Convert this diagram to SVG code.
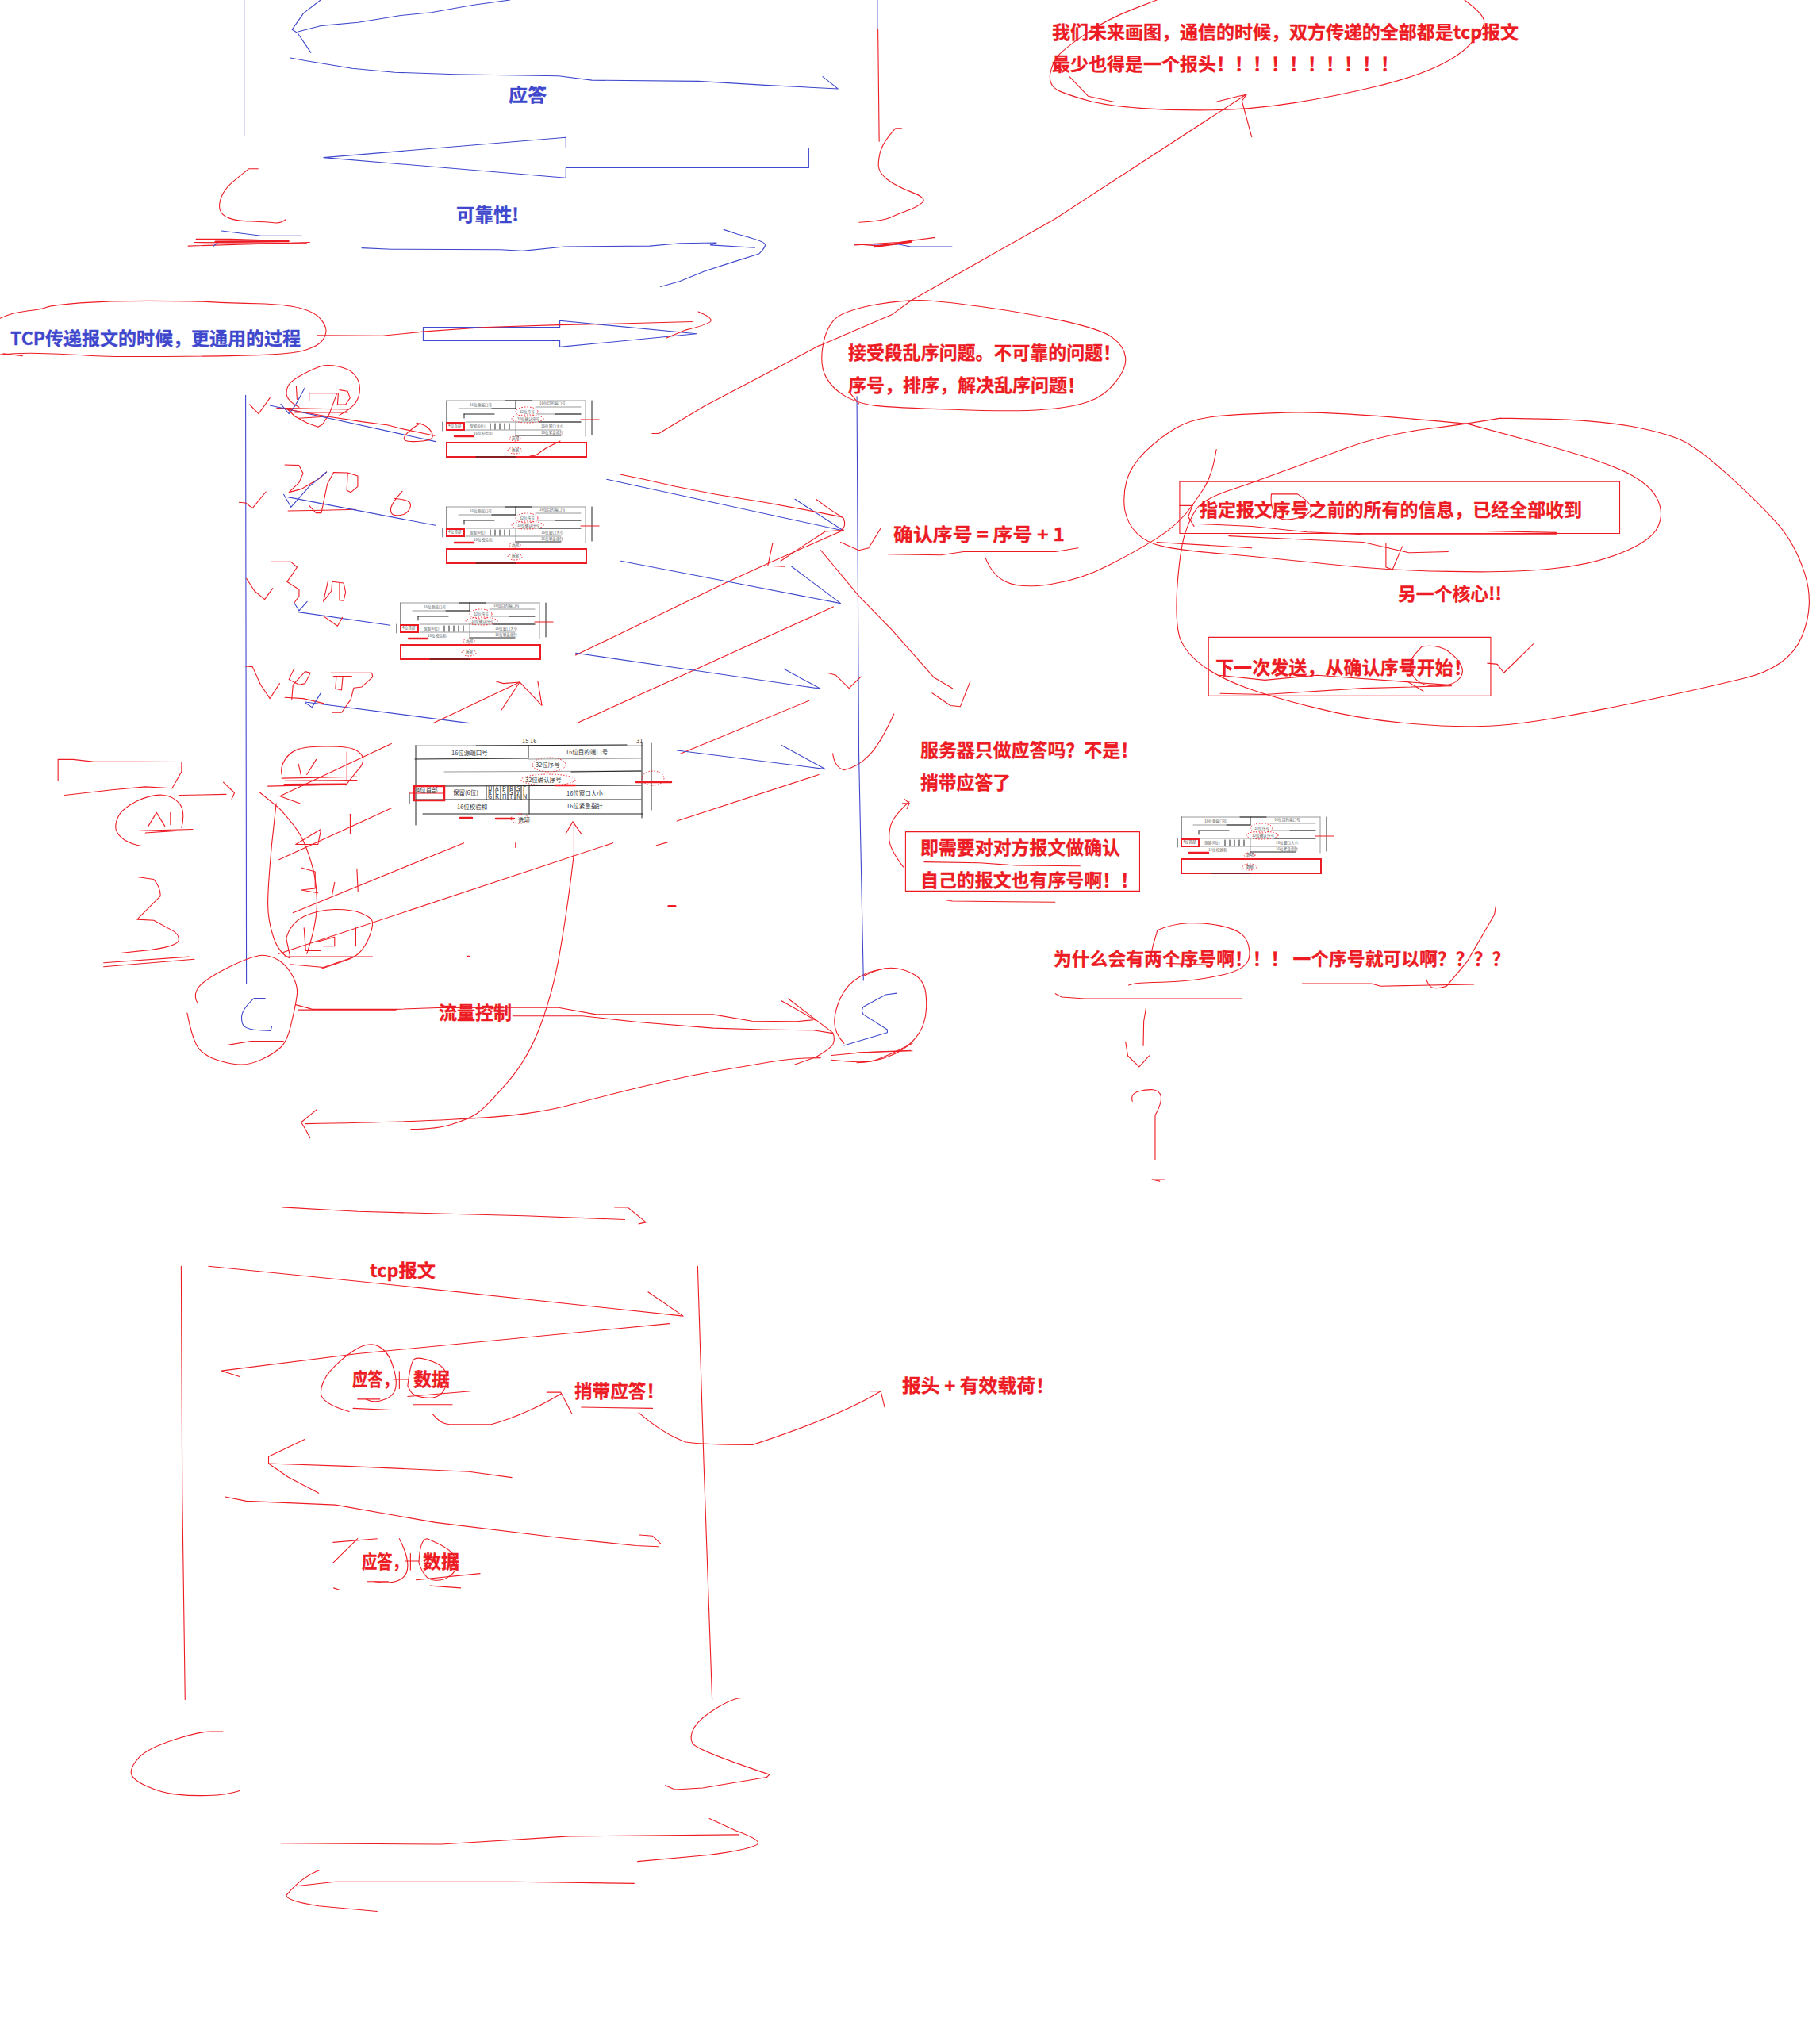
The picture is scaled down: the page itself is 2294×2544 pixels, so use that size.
<svg xmlns="http://www.w3.org/2000/svg" xmlns:xlink="http://www.w3.org/1999/xlink" width="2294" height="2544" viewBox="0 0 2294 2544">
<style>
polyline,line,path,.box{vector-effect:non-scaling-stroke;fill:none;stroke-linejoin:round;stroke-linecap:round}
.r{stroke:#ED1C24;stroke-width:1.1}
.b{stroke:#3F48CC;stroke-width:1.1}
.rt{stroke:#ED1C24;stroke-width:2.5}
.k{stroke:#222;stroke-width:1}
.g{stroke:#999;stroke-width:1}
.rb{stroke:#ED1C24;stroke-width:2;fill:none}
.rd{stroke:#ED1C24;stroke-width:1;stroke-dasharray:1.5 2;fill:none}
text{font-family:"Noto Sans CJK SC","Liberation Sans",sans-serif}
.tr{font-size:22.5px;font-weight:700;fill:#ED1C24;stroke:#ED1C24;stroke-width:.35}
.tb{font-size:22.5px;font-weight:700;fill:#3F48CC;stroke:#3F48CC;stroke-width:.35}
.s{font-size:4.6px;fill:#555}
.m{font-size:7.5px;fill:#333}
</style>
<defs>
<g id="thumb">
<line class="g" x1="3" y1="5" x2="178" y2="5"/><line class="k" x1="77" y1="5" x2="110" y2="5"/>
<line class="g" x1="18" y1="15" x2="90" y2="15"/><line class="k" x1="60" y1="15" x2="90" y2="15"/>
<line class="k" x1="90" y1="5" x2="90" y2="15"/><line class="g" x1="115" y1="13" x2="172" y2="13"/>
<line class="k" x1="25" y1="22" x2="63" y2="22"/><line class="k" x1="25" y1="22" x2="25" y2="27"/>
<line class="g" x1="117" y1="22" x2="172" y2="22"/><line class="k" x1="140" y1="22" x2="172" y2="22"/>
<line class="g" x1="27" y1="32" x2="172" y2="32"/><line class="k" x1="120" y1="32" x2="172" y2="32"/>
<line class="g" x1="27" y1="42" x2="90" y2="42"/><line class="g" x1="90" y1="42" x2="147" y2="42"/>
<line class="g" x1="90" y1="32" x2="90" y2="49"/><line class="k" x1="90" y1="49" x2="147" y2="49"/>
<line class="g" x1="178" y1="5" x2="178" y2="50"/><line class="k" x1="-2" y1="32" x2="-2" y2="43"/><line class="k" x1="3" y1="5" x2="3" y2="32"/>
<line class="k" x1="186" y1="5" x2="186" y2="48"/>
<line class="rt" x1="13" y1="50" x2="37" y2="50"/><line class="r" x1="172" y1="29" x2="195" y2="29"/>
<rect class="rb" x="3" y="33" width="22" height="9"/>
<rect class="rb" x="3" y="58" width="176" height="18"/>
<line class="k" x1="40" y1="76" x2="90" y2="76"/>
<g class="k"><line x1="58" y1="34" x2="58" y2="41"/><line x1="64" y1="34" x2="64" y2="41"/><line x1="70" y1="34" x2="70" y2="41"/><line x1="76" y1="34" x2="76" y2="41"/><line x1="82" y1="34" x2="82" y2="41"/></g>
<ellipse class="rd" cx="104" cy="19" rx="14" ry="6"/><ellipse class="rd" cx="105" cy="28" rx="20" ry="5"/><ellipse class="rd" cx="89" cy="68" rx="9" ry="4"/><ellipse class="rd" cx="89" cy="53" rx="7" ry="3"/>
<text class="s" x="32" y="12">16位源端口号</text><text class="s" x="120" y="10">16位目的端口号</text>
<text class="s" x="95" y="21">32位序号</text><text class="s" x="92" y="30">32位确认序号</text>
<text class="s" x="5" y="38">4位首部</text><text class="s" x="32" y="39">保留(6位)</text>
<text class="s" x="122" y="39">16位窗口大小</text><text class="s" x="37" y="48">16位校验和</text><text class="s" x="122" y="47">16位紧急指针</text>
<text class="s" x="85" y="54">选项</text><text class="s" x="85" y="69">数据</text>
</g>
</defs>

<g id="packet-large">
<line class="g" x1="523" y1="940" x2="810" y2="940"/><line class="k" x1="600" y1="940" x2="790" y2="939"/>
<line class="k" x1="666" y1="940" x2="666" y2="956"/>
<line class="k" x1="523" y1="957" x2="665" y2="956"/><line class="g" x1="666" y1="957" x2="808" y2="956"/>
<line class="g" x1="560" y1="973" x2="808" y2="972"/><line class="k" x1="720" y1="973" x2="808" y2="972"/>
<line class="k" x1="560" y1="991" x2="808" y2="990"/>
<line class="k" x1="613" y1="991" x2="613" y2="1008"/><line class="k" x1="622" y1="991" x2="622" y2="1008"/><line class="k" x1="631" y1="991" x2="631" y2="1008"/><line class="k" x1="640" y1="991" x2="640" y2="1008"/><line class="k" x1="649" y1="991" x2="649" y2="1008"/><line class="k" x1="657" y1="991" x2="657" y2="1008"/>
<line class="k" x1="667" y1="991" x2="667" y2="1026"/>
<line class="k" x1="524" y1="1008" x2="808" y2="1008"/>
<line class="k" x1="533" y1="1026" x2="810" y2="1026"/>
<line class="k" x1="809" y1="937" x2="809" y2="1031"/><line class="k" x1="524" y1="940" x2="524" y2="1040"/>
<line class="k" x1="821" y1="937" x2="821" y2="1021"/><line class="k" x1="516" y1="1000" x2="516" y2="1013"/>
<rect x="522" y="991" width="38" height="18" fill="none" stroke="#ED1C24" stroke-width="2.5"/>
<ellipse class="rd" cx="692" cy="964" rx="21" ry="9"/><ellipse class="rd" cx="691" cy="983" rx="34" ry="7"/><ellipse class="rd" cx="655" cy="1032" rx="11" ry="6"/><ellipse class="rd" cx="823" cy="981" rx="14" ry="9"/>
<line class="rt" x1="802" y1="986" x2="846" y2="986"/><line class="rt" x1="625" y1="1032" x2="648" y2="1032"/><line class="rt" x1="580" y1="1031" x2="595" y2="1031"/><line class="rt" x1="700" y1="990" x2="725" y2="990"/>
<line class="r" x1="516" y1="1000" x2="560" y2="1000"/>
<text class="m" x="569" y="952">16位源端口号</text><text class="m" x="713" y="951">16位目的端口号</text>
<text class="m" x="675" y="967">32位序号</text><text class="m" x="662" y="986">32位确认序号</text>
<text class="m" x="525" y="999">4位首部</text><text class="m" x="571" y="1002">保留(6位)</text>
<text class="m" x="714" y="1003">16位窗口大小</text><text class="m" x="576" y="1020">16位校验和</text><text class="m" x="714" y="1019">16位紧急指针</text>
<text class="m" x="653" y="1037">选项</text><text class="m" x="658" y="937" font-size="6">15 16</text><text class="m" x="802" y="937">31</text>
<text class="m" x="615" y="997">U</text><text class="m" x="615" y="1002">R</text><text class="m" x="615" y="1007">G</text>
<text class="m" x="624" y="997">A</text><text class="m" x="624" y="1002">C</text><text class="m" x="624" y="1007">K</text>
<text class="m" x="633" y="997">P</text><text class="m" x="633" y="1002">S</text><text class="m" x="633" y="1007">H</text>
<text class="m" x="642" y="997">R</text><text class="m" x="642" y="1002">S</text><text class="m" x="642" y="1007">T</text>
<text class="m" x="651" y="997">S</text><text class="m" x="651" y="1002">Y</text><text class="m" x="651" y="1007">N</text>
<text class="m" x="659" y="997">F</text><text class="m" x="659" y="1002">I</text><text class="m" x="659" y="1007">N</text>
</g>
<use id="packet-1" xlink:href="#thumb" href="#thumb" x="560" y="500"/>
<use id="packet-2" xlink:href="#thumb" href="#thumb" x="560" y="634"/>
<use id="packet-3" xlink:href="#thumb" href="#thumb" x="502" y="755"/>
<use id="packet-4" xlink:href="#thumb" href="#thumb" x="1486" y="1025"/>

<g id="strokes-top" transform="scale(.7653,.4146)">
<polyline class="b" points="402,0 402,412"/>
<polyline class="b" points="528,0 500,40 481,90 490,100 512,160"/>
<polyline class="b" points="492,96 530,78 590,68 660,47 710,38 780,15 840,0"/>
<polyline class="b" points="478,176 505,185 580,208 650,220 750,226 920,231 975,244 1150,247 1260,259 1380,270 1355,233"/>
<polyline class="b" points="1445,0 1445,90"/>
<polyline class="r" points="1446,90 1448,430"/>
<polyline class="b" points="533,479 932,418 932,450 1332,450 1332,510 932,510 932,541 533,479"/>
<path class="r" d="M425,513 L410,513 Q395,535 382,555 Q370,575 365,597 Q360,620 362,637 Q365,655 377,663 Q390,672 415,673 Q440,675 451,677 Q462,680 470,668"/>
<polyline class="b" points="365,702 430,717 497,717"/>
<polyline class="r" points="323,727 380,727 430,730"/>
<polyline class="r" points="320,737 505,740"/>
<polyline class="r" points="310,748 510,737"/>
<polyline class="b" points="352,748 360,735 470,733"/>
<polyline class="rt" points="355,735 475,733"/>
<polyline class="b" points="596,754 645,758 825,759 860,763 930,750 1070,748 1120,740 1180,738 1170,745 1243,753"/>
<path class="b" d="M1192,698 L1215,712 Q1258,733 1260,742 Q1262,750 1250,772 L1210,795 L1160,825 L1120,855 L1088,872"/>
<path class="r" d="M1485,390 L1475,390 Q1455,430 1450,460 Q1446,490 1447,507 Q1448,525 1461,545 Q1475,565 1501,584 Q1528,603 1519,616 Q1510,630 1495,640 Q1480,650 1467,661 Q1455,672 1415,676"/>
<polyline class="b" points="1408,743 1480,743 1500,750 1568,750"/>
<polyline class="r" points="1408,742 1450,748"/>
<polyline class="r" points="1408,745 1480,737 1540,722"/>
<polyline class="rt" points="1440,750 1500,735"/>
<path class="r" d="M0,968 L12,959 Q25,950 47,945 Q70,940 77,934 Q85,928 132,921 Q180,915 245,915 Q310,915 345,918 Q380,922 425,923 Q470,925 495,937 Q520,950 528,970 Q537,990 537,1005 Q537,1020 531,1035 Q525,1050 507,1062 Q490,1075 435,1079 Q380,1083 275,1084 Q170,1085 145,1081 Q120,1078 77,1075 Q35,1072 0,1078"/>
<polyline class="r" points="5,1075 37,1082"/>
<polyline class="b" points="697,995 922,995 922,975 1147,1015 922,1055 922,1036 697,1036 697,995"/>
<polyline class="r" points="523,1020 630,1021 700,1008 800,995 920,988 980,986 1140,978"/>
<path class="r" d="M1150,948 Q1172,965 1171,975 Q1170,985 1130,1003 L1097,1028"/>
<polyline class="r" points="1074,1318 1085,1318 1160,1235 1350,1050"/>
</g>

<g id="strokes-packets" transform="translate(280,450) scale(.5102,.3333)">
<polyline class="b" points="58,145 60,2370"/>
<polyline class="r" points="68,180 90,215 118,155"/>
<path class="r" d="M190,190 Q160,165 159,142 Q158,120 166,102 Q175,85 200,65 Q225,45 242,36 Q260,28 287,36 Q315,45 327,67 Q340,90 340,120 Q340,150 330,172 Q320,195 290,220"/>
<polyline class="r" points="183,110 185,160"/>
<polyline class="r" points="215,165 215,137 287,137 285,180 305,180 316,155 310,130 290,125"/>
<polyline class="r" points="283,140 265,215 248,255 237,265 210,250 180,225 160,195"/>
<polyline class="r" points="135,193 310,198"/>
<polyline class="r" points="190,232 260,225"/>
<polyline class="r" points="180,210 310,210"/>
<polyline class="b" points="205,115 180,185 165,215 145,178"/>
<polyline class="b" points="118,183 527,320"/>
<polyline class="r" points="150,195 260,225 345,245 410,258 445,272 525,298"/>
<path class="r" d="M490,250 Q460,280 452,297 Q445,315 457,318 Q470,322 495,318 Q520,315 520,300 Q520,285 510,270 Q500,255 480,250"/>
<polyline class="r" points="835,318 800,345 775,372 760,375"/>
<polyline class="r" points="42,550 58,552 75,572 108,510"/>
<polyline class="r" points="155,408 190,410 200,440 190,475 165,512 195,500 240,460 258,435"/>
<polyline class="b" points="258,435 215,490 170,568 152,520"/>
<polyline class="r" points="275,438 260,480 245,590 232,590 215,562"/>
<polyline class="r" points="275,437 310,438 335,450 335,490 318,512 308,505 310,440"/>
<polyline class="r" points="163,582 250,580 330,577"/>
<polyline class="b" points="162,530 527,637"/>
<path class="r" d="M445,508 Q420,550 417,570 Q415,590 422,596 Q430,602 442,598 Q455,595 461,580 Q468,565 464,552 Q460,540 425,535"/>
<polyline class="r" points="60,838 80,885 105,917 125,875"/>
<polyline class="r" points="120,775 170,775 185,795 170,830 160,850 190,880 190,905 178,930"/>
<polyline class="b" points="178,930 190,960 210,925"/>
<polyline class="b" points="188,965 415,1015"/>
<polyline class="r" points="262,845 250,925 270,885 272,850 300,855 305,890 300,922 290,920 290,855"/>
<polyline class="r" points="250,980 285,1018 297,985"/>
<polyline class="r" points="58,1170 75,1172 95,1240 118,1292 142,1235"/>
<polyline class="r" points="178,1178 165,1220 190,1240 205,1235 218,1195 205,1190 175,1240 172,1295"/>
<polyline class="r" points="155,1288 200,1292 250,1310"/>
<polyline class="b" points="205,1305 610,1385"/>
<polyline class="b" points="245,1268 222,1325 205,1308"/>
<polyline class="r" points="268,1195 370,1195 372,1210 345,1248 325,1252 318,1295 295,1345 272,1345"/>
<polyline class="r" points="275,1208 320,1208"/>
<polyline class="r" points="282,1210 280,1255 295,1260 298,1210"/>
<polyline class="r" points="522,1385 735,1230"/>
<polyline class="r" points="678,1228 695,1235 735,1230 690,1335"/>
<polyline class="r" points="735,1230 790,1318 780,1228"/>
<polyline class="b" points="950,463 1535,657 1415,538"/>
<polyline class="r" points="985,445 1040,462 1120,490 1220,520 1340,550 1440,578 1530,605"/>
<path class="r" d="M1467,538 L1500,575 L1535,610 Q1543,640 1530,655"/>
<polyline class="r" points="1535,655 1490,660 1440,710 1380,772"/>
<polyline class="r" points="873,1128 1250,850 1350,780 1535,655"/>
<polyline class="r" points="1360,705 1348,790 1390,793"/>
<polyline class="b" points="985,772 1250,850 1528,932 1407,793"/>
<polyline class="r" points="877,1385 1165,1185 1510,945"/>
<polyline class="b" points="873,1120 1165,1185 1478,1255 1388,1180"/>
<polyline class="r" points="1133,1500 1450,1300"/>
</g>

<g id="strokes-middle" transform="translate(50,900) scale(.7015,.3827)">
<polyline class="b" points="1145,120 1412,182 1333,103"/>
<polyline class="r" points="1145,353 1400,200"/>
<path class="r" d="M1535,0 Q1510,100 1490,137 Q1470,175 1445,185 Q1428,175 1425,130"/>
<polyline class="r" points="433,270 632,98"/>
<polyline class="r" points="430,270 468,295"/>
<polyline class="r" points="430,480 632,310"/>
<polyline class="r" points="455,655 762,425"/>
<polyline class="r" points="430,790 1030,425"/>
<path class="r" d="M435,200 Q432,175 441,150 Q450,125 465,116 Q480,107 517,107 Q555,107 567,118 Q580,130 581,147 Q582,165 573,182 Q565,200 550,235"/>
<polyline class="r" points="465,165 470,205"/>
<polyline class="r" points="480,200 497,150"/>
<polyline class="r" points="552,125 552,220"/>
<polyline class="r" points="435,212 570,207"/>
<polyline class="r" points="440,220 570,218"/>
<polyline class="r" points="410,238 550,232"/>
<polyline class="rt" points="440,233 550,232"/>
<polyline class="r" points="505,380 460,430 500,430 505,385"/>
<polyline class="r" points="558,330 558,395"/>
<path class="r" d="M395,258 L430,310 Q460,370 470,405 Q480,440 488,490 Q497,540 498,610 Q500,680 480,790"/>
<path class="r" d="M425,295 L417,430 Q410,570 410,625 Q410,680 420,735 Q430,790 450,805"/>
<polyline class="r" points="470,507 495,520 495,575 470,580 500,590"/>
<polyline class="r" points="530,555 525,600"/>
<polyline class="r" points="570,510 572,585"/>
<path class="r" d="M450,800 L443,740 Q450,690 475,667 Q500,645 530,644 Q560,643 577,656 Q595,670 597,680 Q600,690 595,720 Q590,750 580,775 Q570,800 550,812 Q530,825 505,840"/>
<polyline class="r" points="475,705 478,780 505,780"/>
<polyline class="r" points="500,750 530,735 530,765 510,765"/>
<polyline class="r" points="568,705 568,765"/>
<polyline class="r" points="440,800 598,800"/>
<polyline class="r" points="450,825 510,835 565,800"/>
<polyline class="r" points="450,840 565,840"/>
<polyline class="r" points="33,220 33,150 60,150 95,157 255,158 255,190 238,245 190,240 130,250 45,268"/>
<polyline class="r" points="250,268 335,265"/>
<polyline class="r" points="330,225 350,260 345,280"/>
<path class="r" d="M183,435 Q165,430 152,415 Q140,400 137,380 Q135,360 142,335 Q150,310 175,287 Q200,265 220,267 Q240,270 251,295 Q262,320 255,375"/>
<polyline class="r" points="195,370 210,325 225,370"/>
<polyline class="r" points="235,365 235,325"/>
<polyline class="r" points="180,385 275,380"/>
<polyline class="r" points="190,392 245,385"/>
<path class="r" d="M175,537 L205,545 Q217,570 217,600 L175,677 L205,680 L240,715 Q250,725 250,745 Q248,765 200,777 L145,788"/>
<polyline class="r" points="115,820 268,800"/>
<polyline class="r" points="115,833 278,808"/>
<path class="r" d="M283,950 Q275,925 287,897 Q300,870 342,832 Q385,795 400,795 Q415,795 430,812 Q445,830 455,865 Q465,900 462,930 Q460,960 452,1020 Q445,1080 432,1100 Q420,1120 400,1137 Q380,1155 362,1155 Q345,1155 322,1142 Q300,1130 287,1105 Q275,1080 265,985"/>
<path class="b" d="M405,937 L385,937 Q365,970 363,995 Q362,1020 368,1030 Q375,1040 395,1042 L415,1044 L417,1030"/>
<polyline class="r" points="340,1090 380,1078 438,1078"/>
<polyline class="r" points="460,958 490,973 640,973 715,968 930,967 1000,990 1210,990 1280,1012 1360,1013 1390,1008"/>
<polyline class="r" points="465,975 640,975"/>
<polyline class="r" points="850,995 975,995 1075,1015 1210,1035 1300,1040 1390,1042 1425,1052"/>
<polyline class="r" points="1333,945 1395,1010"/>
<path class="r" d="M1345,938 L1425,1050 Q1430,1070 1425,1090 Q1415,1110 1395,1130 L1357,1155"/>
<path class="r" d="M1534,839 Q1500,838 1475,864 Q1450,890 1439,935 Q1428,980 1428,1015 Q1428,1050 1445,1085"/>
<polyline class="r" points="1423,1125 1480,1115 1568,1110"/>
<path class="r" d="M1423,1140 Q1480,1152 1500,1141 Q1520,1130 1568,1085"/>
<path class="b" d="M1540,920 L1520,925 L1480,965 Q1475,978 1480,990 L1523,1040 L1523,1050 L1445,1092"/>
<path class="r" d="M960,355 L960,460 Q950,620 937,760 Q925,900 902,1015 Q880,1130 840,1215 Q800,1300 785,1317 Q770,1335 742,1351 Q715,1368 667,1368"/>
<polyline class="r" points="945,395 958,355 973,395"/>
<path class="r" d="M1403,1133 L1376,1134 Q1350,1135 1310,1147 Q1270,1160 1220,1175 Q1170,1190 1085,1227 Q1000,1265 960,1285 Q920,1305 875,1316 Q830,1328 740,1336 Q650,1345 478,1350"/>
<polyline class="r" points="498,1303 470,1345 478,1370 486,1397"/>
<polyline class="rt" points="1130,633 1142,633"/>
<polyline class="r" points="768,798 772,798"/>
<polyline class="r" points="855,425 855,440"/>
<polyline class="r" points="1108,433 1128,423"/>
</g>

<g id="strokes-right" transform="translate(1000,0) scale(.8253,.6059)">
<polyline class="b" points="97,825 100,1568 107,2040"/>
<polyline class="r" points="40,719 150,655 180,625 400,455 690,198"/>
<path class="r" d="M555,0 L517,20 Q480,40 450,67 Q420,95 407,112 Q395,130 392,155 Q390,180 407,190 Q425,200 452,210 Q480,220 530,225 Q580,230 640,229 Q700,228 765,214 Q830,200 890,180 Q950,160 985,137 Q1020,115 1037,87 Q1055,60 1055,45 Q1055,30 1025,0"/>
<polyline class="r" points="422,160 450,200 490,212"/>
<polyline class="r" points="645,212 680,200 692,197 685,210 700,285"/>
<path class="r" d="M129,633 Q80,645 65,662 Q50,680 45,720 Q40,760 50,785 Q60,810 80,825 Q100,840 125,844 Q150,848 245,852 Q340,857 382,852 Q425,848 450,836 Q475,825 492,795 Q510,765 507,742 Q505,720 487,702 Q470,685 410,667 Q350,650 297,640 Q245,630 211,626 Q178,622 129,633"/>
<polyline class="r" points="85,815 100,840"/>
<path class="r" d="M1030,882 Q840,857 770,858 Q700,860 655,865 Q610,870 585,890 Q560,910 537,940 Q515,970 509,1000 Q503,1030 506,1060 Q510,1090 525,1110 Q540,1130 565,1137 Q590,1145 655,1152 Q720,1160 812,1173 Q905,1187 1002,1189 Q1100,1192 1160,1183 Q1220,1175 1265,1150 Q1310,1125 1320,1097 Q1330,1070 1320,1040 Q1310,1010 1275,985 Q1240,960 1135,921 L1030,882"/>
<path class="r" d="M1080,870 Q1030,882 965,893 Q900,905 845,932 Q790,960 745,982 Q700,1005 662,1022 Q625,1040 615,1060 Q605,1080 597,1115 Q590,1150 586,1225 Q583,1300 591,1330 Q600,1360 625,1385 Q650,1410 690,1430 Q730,1450 795,1472 Q860,1495 930,1504 Q1000,1513 1050,1511 Q1100,1510 1180,1490 Q1260,1470 1320,1452 Q1380,1435 1450,1412 Q1520,1390 1540,1325 Q1560,1260 1545,1195 Q1530,1130 1500,1085 Q1470,1040 1425,985 Q1380,930 1355,915 Q1330,900 1280,887 Q1230,875 1155,872 L1080,870"/>
<polyline class="r" points="590,1002 1262,1002 1262,1110 590,1110 590,1002"/>
<polyline class="r" points="634,1326 1065,1326 1065,1448 634,1448 634,1326"/>
<path class="r" d="M293,1160 Q305,1200 327,1212 Q350,1225 395,1215 Q440,1205 480,1177 Q520,1150 555,1120 Q590,1090 610,1050"/>
<path class="r" d="M646,935 Q640,990 625,1020 L610,1050 L603,1075 L612,1095"/>
<polyline class="r" points="590,1052 610,1052"/>
<path class="r" d="M730,1028 L770,1028 Q795,1050 790,1062 Q785,1075 762,1080 Q740,1085 734,1067 Q728,1050 730,1028"/>
<polyline class="r" points="620,1090 700,1095 785,1107 870,1112 1165,1112"/>
<polyline class="r" points="1055,1105 1165,1108"/>
<polyline class="r" points="665,1115 770,1122 870,1128 940,1150 1000,1148"/>
<polyline class="r" points="555,1128 700,1140"/>
<polyline class="r" points="905,1130 905,1180 915,1185 930,1137"/>
<polyline class="r" points="1060,1380 1075,1382 1085,1400 1130,1340"/>
<path class="r" d="M960,1345 Q985,1340 1000,1355 Q1015,1370 1020,1385 Q1025,1400 1017,1412 Q1010,1425 990,1427 Q970,1430 957,1420 Q945,1410 942,1392 Q940,1375 950,1360 L960,1345"/>
<polyline class="r" points="650,1405 720,1415 800,1405 1000,1425"/>
<polyline class="r" points="652,1443 720,1445 870,1432 1005,1427"/>
<polyline class="r" points="940,1420 962,1438"/>
<polyline class="r" points="145,1153 225,1155 260,1148 400,1148 435,1140"/>
<polyline class="r" points="72,1128 100,1145 115,1140 133,1100"/>
<polyline class="r" points="42,1145 100,1240 150,1310 215,1410 243,1432"/>
<polyline class="r" points="212,1442 240,1468 255,1470 270,1418"/>
<polyline class="r" points="52,1400 65,1405 85,1432 103,1408"/>
</g>

<g id="strokes-server" transform="translate(1080,900) scale(.574,.3954)">
<polyline class="r" points="107,376 621,376 621,565 107,565 107,376"/>
<polyline class="r" points="100,285 115,285"/>
<polyline class="r" points="105,272 115,285 110,302"/>
<path class="r" d="M115,280 Q85,320 77,345 Q70,370 71,400 Q72,430 102,488"/>
<polyline class="r" points="148,472 270,475 350,483 490,485"/>
<polyline class="r" points="193,593 210,597 435,600"/>
<path class="r" d="M660,690 Q690,670 727,667 Q765,665 797,675 Q830,685 845,702 Q860,720 862,755 Q865,790 847,807 Q830,825 790,836 Q750,848 720,851 Q690,855 650,856 Q610,857 597,865"/>
<polyline class="r" points="660,690 650,740 645,775"/>
<polyline class="r" points="680,795 770,800"/>
<polyline class="r" points="436,892 450,903 500,908 845,908"/>
<polyline class="r" points="978,860 1130,860 1150,868 1355,862"/>
<path class="r" d="M1403,613 L1400,640 L1340,790 L1295,868 Q1275,878 1262,872 Q1255,865 1250,845"/>
<polyline class="r" points="635,938 630,980 629,1058"/>
<polyline class="r" points="590,1045 595,1090 620,1125 642,1090"/>
<path class="r" d="M605,1235 Q600,1210 620,1203 Q635,1197 650,1198 Q665,1200 668,1220 Q670,1240 655,1280 L655,1420"/>
<polyline class="r" points="648,1485 675,1485"/>
<polyline class="r" points="650,1485 665,1490"/>
<path class="r" d="M15,835 Q50,810 75,810 Q100,810 125,830 Q150,850 152,900 Q155,950 147,985 Q140,1020 120,1047 Q100,1075 70,1092 Q40,1110 0,1112"/>
<polyline class="r" points="0,1080 118,1073"/>
</g>

<g id="strokes-bottom" transform="translate(100,1480) scale(.7015,.676)">
<polyline class="r" points="365,62 500,70 800,78 980,85"/>
<polyline class="r" points="962,62 985,62 1018,90 1005,93"/>
<polyline class="r" points="183,172 185,600 190,980"/>
<polyline class="r" points="1111,172 1122,540 1137,980"/>
<polyline class="r" points="232,172 500,200 1085,265 1022,220"/>
<polyline class="r" points="1060,279 500,335 255,367 288,378"/>
<path class="r" d="M485,443 Q435,428 434,409 Q433,390 451,367 Q470,345 495,328 Q520,312 537,321 Q555,330 563,357 Q572,385 568,400 Q565,415 547,421 Q530,428 515,420"/>
<path class="r" d="M590,395 Q595,350 602,345 Q610,340 635,350 Q660,360 660,380 Q660,400 650,410 Q640,420 620,417 Q600,415 595,405 L590,395"/>
<polyline class="r" points="575,368 575,400"/>
<polyline class="r" points="565,383 590,383"/>
<polyline class="r" points="500,420 540,420"/>
<polyline class="r" points="590,415 703,405"/>
<polyline class="r" points="600,430 670,430"/>
<polyline class="r" points="492,437 560,440 662,440"/>
<path class="r" d="M635,448 Q650,467 665,467 L740,467 Q800,450 865,410"/>
<polyline class="r" points="840,407 865,407 885,447"/>
<polyline class="r" points="902,435 1030,437"/>
<path class="r" d="M1005,445 Q1050,485 1090,500 Q1120,505 1210,505 Q1370,450 1440,405"/>
<polyline class="r" points="1420,405 1440,405 1447,435"/>
<polyline class="r" points="777,566 700,555 480,545 340,540"/>
<polyline class="r" points="405,495 340,527 340,540 375,565 430,595"/>
<polyline class="r" points="262,602 300,610 460,617 640,650 860,678 1000,693 1040,695"/>
<polyline class="r" points="1007,673 1030,675 1045,690"/>
<polyline class="r" points="456,687 535,680"/>
<polyline class="r" points="500,680 456,725"/>
<polyline class="r" points="457,772 468,776"/>
<path class="r" d="M575,680 Q590,710 590,730 Q590,750 575,757 Q560,765 530,760"/>
<polyline class="r" points="518,760 555,760"/>
<path class="r" d="M610,725 Q612,680 625,680 Q660,695 670,707 Q680,720 677,732 Q675,745 662,752 Q650,760 635,757 Q620,755 610,725"/>
<polyline class="r" points="605,757 720,745"/>
<polyline class="r" points="630,768 685,772"/>
<polyline class="r" points="595,708 595,738"/>
<polyline class="r" points="585,722 610,722"/>
<path class="r" d="M258,1040 L236,1040 Q215,1040 170,1055 Q125,1070 108,1087 Q92,1105 93,1117 Q95,1130 122,1142 Q150,1155 175,1157 Q200,1160 232,1159 Q265,1158 288,1150"/>
<path class="r" d="M1208,977 L1191,977 Q1175,977 1145,996 Q1115,1015 1105,1032 Q1095,1050 1102,1062 Q1110,1075 1240,1120 L1235,1125 L1120,1145 L1070,1148 L1053,1140"/>
<polyline class="r" points="363,1248 650,1250 880,1235 1185,1232"/>
<path class="r" d="M1132,1202 L1180,1225 Q1220,1240 1220,1248 Q1215,1258 1130,1270 L1003,1282"/>
<polyline class="r" points="997,1323 780,1320 460,1320 390,1328"/>
<path class="r" d="M432,1298 Q400,1310 372,1345 Q370,1355 430,1365 L535,1375"/>
</g>

<g id="labels">
<text class="tb" x="641" y="128" textLength="48" lengthAdjust="spacingAndGlyphs">应答</text>
<text class="tb" x="575" y="279" textLength="79" lengthAdjust="spacingAndGlyphs">可靠性!</text>
<text class="tb" x="13" y="435" textLength="366" lengthAdjust="spacingAndGlyphs">TCP传递报文的时候，更通用的过程</text>
<text class="tr" x="1326" y="49" textLength="588" lengthAdjust="spacingAndGlyphs">我们未来画图，通信的时候，双方传递的全部都是tcp报文</text>
<text class="tr" x="1326" y="89" textLength="437" lengthAdjust="spacingAndGlyphs">最少也得是一个报头！！！！！！！！！！</text>
<text class="tr" x="1069" y="453" textLength="344" lengthAdjust="spacingAndGlyphs">接受段乱序问题。不可靠的问题！</text>
<text class="tr" x="1069" y="494" textLength="299" lengthAdjust="spacingAndGlyphs">序号，排序，解决乱序问题！</text>
<text class="tr" x="1126" y="682" textLength="216" lengthAdjust="spacingAndGlyphs">确认序号 = 序号 + 1</text>
<text class="tr" x="1512" y="651" textLength="482" lengthAdjust="spacingAndGlyphs">指定报文序号之前的所有的信息，已经全部收到</text>
<text class="tr" x="1762" y="757" textLength="131" lengthAdjust="spacingAndGlyphs">另一个核心!!</text>
<text class="tr" x="1532" y="850" textLength="323" lengthAdjust="spacingAndGlyphs">下一次发送，从确认序号开始！</text>
<text class="tr" x="1160" y="954" textLength="275" lengthAdjust="spacingAndGlyphs">服务器只做应答吗？不是！</text>
<text class="tr" x="1160" y="995" textLength="114" lengthAdjust="spacingAndGlyphs">捎带应答了</text>
<text class="tr" x="1160" y="1077" textLength="252" lengthAdjust="spacingAndGlyphs">即需要对对方报文做确认</text>
<text class="tr" x="1160" y="1118" textLength="275" lengthAdjust="spacingAndGlyphs">自己的报文也有序号啊！！</text>
<text class="tr" x="1328" y="1217" textLength="575" lengthAdjust="spacingAndGlyphs">为什么会有两个序号啊！！！ 一个序号就可以啊？？？？</text>
<text class="tr" x="553" y="1285" textLength="92" lengthAdjust="spacingAndGlyphs">流量控制</text>
<text class="tr" x="466" y="1610" textLength="83" lengthAdjust="spacingAndGlyphs">tcp报文</text>
<text class="tr" x="444" y="1747" textLength="58" lengthAdjust="spacingAndGlyphs">应答，</text>
<text class="tr" x="521" y="1747" textLength="46" lengthAdjust="spacingAndGlyphs">数据</text>
<text class="tr" x="724" y="1762" textLength="113" lengthAdjust="spacingAndGlyphs">捎带应答！</text>
<text class="tr" x="1137" y="1755" textLength="192" lengthAdjust="spacingAndGlyphs">报头 + 有效载荷！</text>
<text class="tr" x="456" y="1977" textLength="58" lengthAdjust="spacingAndGlyphs">应答，</text>
<text class="tr" x="533" y="1977" textLength="46" lengthAdjust="spacingAndGlyphs">数据</text>
</g>
</svg>
